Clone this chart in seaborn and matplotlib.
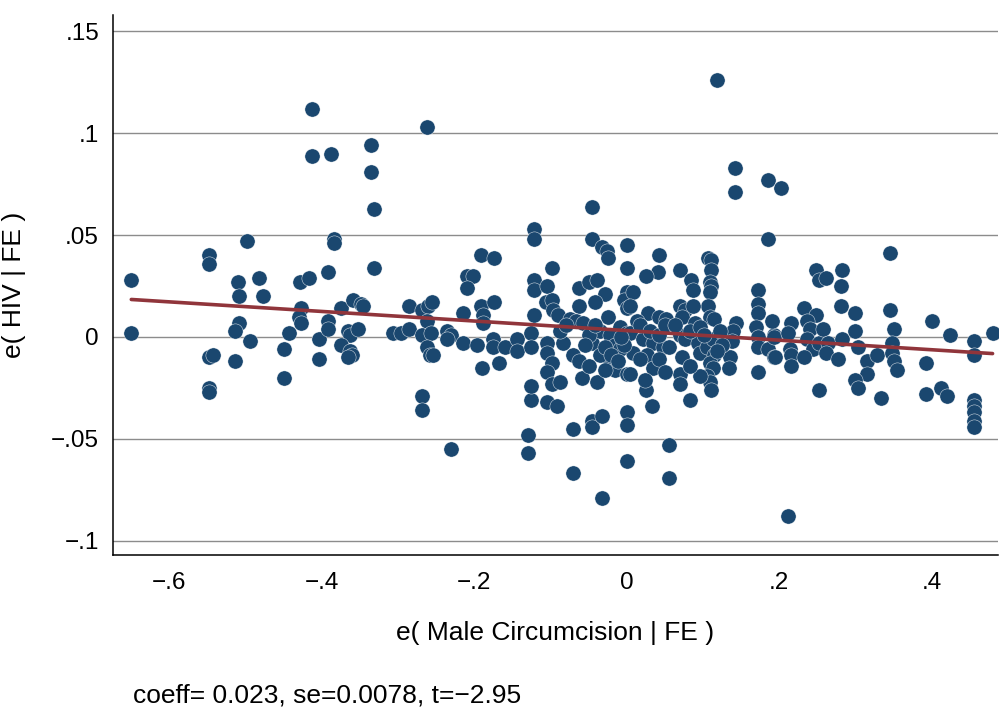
import matplotlib
matplotlib.use("Agg")
import matplotlib.pyplot as plt
import numpy as np
import pandas as pd
import seaborn as sns

# residualised circumcision (x) and HIV (y)
resid_circ = [
    -0.650, -0.650, -0.548, -0.548, -0.548, -0.543, -0.548, -0.548, -0.510, -0.509,
    -0.509, -0.514, -0.514, -0.494, -0.498, -0.483, -0.477, -0.443, -0.450, -0.450,
    -0.429, -0.417, -0.428, -0.430, -0.428, -0.404, -0.404, -0.392, -0.392, -0.392,
    -0.384, -0.384, -0.413, -0.413, -0.388, -0.336, -0.336, -0.332, -0.332, -0.375,
    -0.359, -0.349, -0.346, -0.366, -0.363, -0.353, -0.375, -0.363, -0.361, -0.366,
    -0.306, -0.296, -0.286, -0.286, -0.268, -0.261, -0.256, -0.262, -0.268, -0.257,
    -0.262, -0.258, -0.254, -0.268, -0.268, -0.262, -0.236, -0.230, -0.236, -0.215,
    -0.215, -0.210, -0.202, -0.210, -0.191, -0.174, -0.191, -0.188, -0.189, -0.174,
    -0.197, -0.190, -0.176, -0.176, -0.168, -0.160, -0.144, -0.144, -0.231, -0.130,
    -0.130, -0.125, -0.104, -0.092, -0.125, -0.122, -0.122, -0.122, -0.122, -0.104,
    -0.098, -0.122, -0.125, -0.125, -0.106, -0.098, -0.097, -0.090, -0.105, -0.105,
    -0.098, -0.105, -0.098, -0.087, -0.046, -0.046, 0.000, -0.033, -0.026, -0.024,
    0.000, -0.062, -0.049, -0.039, -0.029, -0.042, -0.062, 0.000, -0.003, 0.000,
    0.008, -0.075, -0.066, -0.058, -0.025, -0.084, -0.071, -0.062, -0.059, -0.071,
    -0.046, -0.046, -0.033, 0.000, 0.000, 0.033, 0.083, 0.055, -0.071, 0.000,
    0.055, -0.033, 0.212, -0.039, -0.022, -0.016, 0.000, -0.045, -0.035, -0.049,
    -0.029, -0.009, 0.000, 0.025, 0.042, 0.041, 0.025, 0.070, 0.084, 0.087,
    0.106, 0.111, 0.111, 0.109, 0.111, 0.109, 0.106, 0.109, 0.115, 0.172,
    0.172, 0.172, 0.144, 0.139, 0.138, 0.169, 0.172, 0.172, 0.193, 0.185,
    0.193, 0.172, 0.070, 0.076, 0.087, 0.072, 0.004, 0.028, 0.043, 0.052,
    0.013, 0.089, 0.070, 0.076, 0.004, 0.021, 0.034, 0.047, 0.056, 0.008,
    0.026, 0.034, 0.004, 0.073, 0.070, 0.070, 0.093, 0.096, 0.105, 0.113,
    0.115, 0.109, 0.113, 0.105, 0.109, 0.111, 0.135, 0.134, 0.118, 0.142,
    0.142, 0.186, 0.203, 0.186, 0.346, 0.248, 0.252, 0.262, 0.282, 0.281,
    0.281, 0.299, 0.233, 0.248, 0.346, 0.351, 0.401, 0.424, 0.456, 0.480,
    0.456, 0.191, 0.193, 0.215, 0.212, 0.214, 0.216, 0.216, 0.236, 0.240,
    0.237, 0.244, 0.252, 0.258, 0.264, 0.262, 0.194, 0.233, 0.277, 0.282,
    0.300, 0.303, 0.315, 0.315, 0.329, 0.348, 0.348, 0.351, 0.355, 0.393,
    0.300, 0.303, 0.252, 0.334, 0.393, 0.412, 0.420, 0.455, 0.455, 0.455,
    0.455, 0.455, -0.035, -0.022, -0.016, -0.029, -0.009, -0.020, -0.012, -0.003,
    -0.007, -0.049, -0.055, -0.042, 0.017, 0.030, 0.043, 0.050, 0.063, 0.083,
    0.096, 0.102, 0.122, 0.125, 0.119, 0.017, 0.043, 0.050, 0.024, 0.096,
    0.083, -0.088, -0.080,
]
resid_hiv = [
    0.028, 0.002, 0.040, 0.036, -0.010, -0.009, -0.025, -0.027, 0.027, 0.020,
    0.007, 0.003, -0.012, -0.002, 0.047, 0.029, 0.020, 0.002, -0.006, -0.020,
    0.027, 0.029, 0.014, 0.010, 0.007, -0.001, -0.011, 0.032, 0.008, 0.004,
    0.048, 0.046, 0.112, 0.089, 0.090, 0.094, 0.081, 0.063, 0.034, 0.014,
    0.018, 0.016, 0.015, 0.003, 0.001, 0.004, -0.004, -0.007, -0.009, -0.010,
    0.002, 0.002, 0.004, 0.015, 0.013, 0.015, 0.017, 0.008, 0.001, 0.002,
    -0.005, -0.009, -0.009, -0.029, -0.036, 0.103, 0.003, 0.001, -0.001, 0.012,
    -0.003, 0.030, 0.030, 0.024, 0.040, 0.039, 0.015, 0.011, 0.007, 0.017,
    -0.004, -0.015, -0.001, -0.005, -0.013, -0.005, -0.001, -0.007, -0.055, -0.048,
    -0.057, -0.031, -0.032, -0.034, -0.024, 0.053, 0.048, 0.028, 0.023, 0.025,
    0.034, 0.011, 0.002, -0.005, 0.017, 0.018, 0.013, 0.011, -0.003, -0.008,
    -0.013, -0.017, -0.023, -0.022, 0.064, 0.048, 0.045, 0.044, 0.042, 0.039,
    0.034, 0.024, 0.027, 0.028, 0.021, 0.017, 0.015, 0.022, 0.018, 0.014,
    0.022, 0.009, 0.008, 0.007, 0.010, -0.003, -0.009, -0.012, -0.020, -0.045,
    -0.041, -0.044, -0.039, -0.037, -0.043, -0.034, -0.031, -0.053, -0.067, -0.061,
    -0.069, -0.079, -0.088, -0.022, -0.013, -0.016, -0.018, -0.003, -0.009, -0.014,
    -0.016, 0.005, 0.002, -0.026, 0.040, 0.032, 0.030, 0.033, 0.028, 0.023,
    0.039, 0.038, 0.033, 0.027, 0.025, 0.022, 0.015, 0.010, 0.009, 0.023,
    0.016, 0.012, 0.007, 0.003, -0.002, 0.005, 0.000, -0.005, 0.001, -0.006,
    -0.010, -0.017, 0.015, 0.013, 0.015, 0.010, 0.015, 0.012, 0.010, 0.009,
    0.008, 0.007, 0.001, -0.001, 0.002, -0.001, -0.003, -0.005, -0.005, -0.008,
    -0.009, -0.015, -0.018, -0.010, -0.018, -0.023, -0.003, -0.008, -0.005, -0.001,
    -0.009, -0.013, -0.015, -0.019, -0.022, -0.026, -0.010, -0.015, 0.126, 0.083,
    0.071, 0.077, 0.073, 0.048, 0.041, 0.033, 0.028, 0.029, 0.033, 0.025,
    0.015, 0.012, 0.014, 0.011, 0.013, 0.004, 0.008, 0.001, -0.002, 0.002,
    -0.009, 0.008, 0.000, 0.007, 0.002, -0.006, -0.009, -0.014, 0.008, 0.004,
    -0.001, -0.006, -0.003, 0.004, -0.003, -0.008, -0.010, -0.010, -0.011, -0.001,
    0.003, -0.005, -0.012, -0.018, -0.009, -0.003, -0.008, -0.012, -0.016, -0.013,
    -0.021, -0.025, -0.026, -0.030, -0.028, -0.025, -0.029, -0.031, -0.034, -0.037,
    -0.041, -0.044, 0.003, 0.001, -0.004, -0.005, -0.006, -0.009, -0.012, -0.004,
    0.000, 0.001, -0.004, 0.006, 0.006, 0.003, 0.001, 0.006, 0.006, 0.003,
    0.005, 0.001, 0.003, -0.004, -0.007, -0.011, -0.011, -0.017, -0.021, -0.019,
    -0.014, 0.003, 0.006,
]

x_ticks = [-0.6, -0.4, -0.2, 0, 0.2, 0.4]
x_tick_labels = ["\u2212.6", "\u2212.4", "\u2212.2", "0", ".2", ".4"]
y_ticks = [-0.1, -0.05, 0, 0.05, 0.1, 0.15]
y_tick_labels = ["\u2212.1", "\u2212.05", "0", ".05", ".1", ".15"]

df = pd.DataFrame({"circ": resid_circ, "hiv": resid_hiv})

sns.set_theme(style="white")
plt.rcParams["font.family"] = ["Liberation Sans", "DejaVu Sans"]
plt.rcParams["text.color"] = "black"
plt.rcParams["axes.labelcolor"] = "black"
plt.rcParams["xtick.color"] = "black"
plt.rcParams["ytick.color"] = "black"

fig = plt.figure(figsize=(10.01, 7.09), dpi=100)
ax = fig.add_axes([0.1129, 0.2172, 0.884, 0.7616])

# horizontal grid like Stata's s2color scheme
for yv in y_ticks:
    ax.axhline(yv, color="#8c8c8c", lw=1.0, zorder=0)

sns.regplot(data=df, x="circ", y="hiv", ci=None, ax=ax,
            scatter_kws=dict(s=120, color="#1a476f", edgecolor="white",
                             linewidths=0.3, alpha=1, zorder=2),
            line_kws=dict(color="#90353b", lw=2.6, zorder=3))

ax.set_xlim(-0.674, 0.487)
ax.set_ylim(-0.107, 0.158)
ax.set_xticks(x_ticks)
ax.set_xticklabels(x_tick_labels)
ax.set_yticks(y_ticks)
ax.set_yticklabels(y_tick_labels)
ax.tick_params(axis="both", direction="out", length=6, width=1.0,
               color="black", labelcolor="black", labelsize=17.5, pad=6)
ax.tick_params(axis="y", pad=4)

for side in ["top", "right"]:
    ax.spines[side].set_visible(False)
for side in ["left", "bottom"]:
    ax.spines[side].set_color("black")
    ax.spines[side].set_linewidth(1.1)

ax.set_xlabel("e( Male Circumcision | FE )", fontsize=19, labelpad=20)
ax.set_ylabel("e( HIV | FE )", fontsize=19, labelpad=18)

fig.text(133 / 1001, 1 - 696 / 709, "coeff= 0.023, se=0.0078, t=\u22122.95",
         fontsize=19, ha="left", va="center")

fig.savefig("out.png", dpi=100, facecolor="white")
